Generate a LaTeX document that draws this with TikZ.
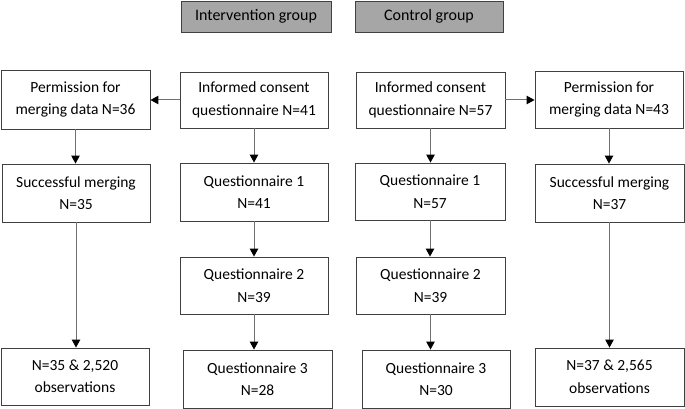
\documentclass[tikz,border=0pt]{standalone}
\usepackage{fontspec}
\setmainfont{Carlito}
\usetikzlibrary{arrows.meta}
\definecolor{boxline}{HTML}{404040}
\definecolor{conn}{HTML}{707070}
\definecolor{hdrfill}{HTML}{A6A6A6}
\tikzset{
  bx/.style={draw=boxline, line width=0.9pt, inner sep=0pt, align=center,
    font=\fontsize{15.5}{22.5}\selectfont},
  hdr/.style={bx, fill=hdrfill, font=\fontsize{16}{18}\selectfont},
  conn/.style={draw=conn, line width=1pt, -{Triangle[color=black, length=8pt, width=8.5pt]}}
}
\begin{document}
\begin{tikzpicture}[x=1pt, y=-1pt]
\useasboundingbox (0,0) rectangle (685,409);
% headers
\node[hdr, minimum width=150pt, minimum height=31pt] (hI) at (256,16.5) {Intervention group};
\node[hdr, minimum width=148pt, minimum height=31pt] (hC) at (429,16.5) {Control group};
% row 1
\node[bx, minimum width=149pt, minimum height=59pt] (pL) at (75.5,99.5) {Permission for\\merging data N=36};
\node[bx, minimum width=148pt, minimum height=56pt] (iL) at (254,100) {Informed consent\\questionnaire N=41};
\node[bx, minimum width=149pt, minimum height=56pt] (iR) at (430.5,100) {Informed consent\\questionnaire N=57};
\node[bx, minimum width=148pt, minimum height=57pt] (pR) at (609,99.5) {Permission for\\merging data N=43};
% row 2
\node[bx, minimum width=148pt, minimum height=58pt] (sL) at (76,193) {Successful merging\\N=35};
\node[bx, minimum width=148pt, minimum height=58pt] (q1L) at (254,192) {Questionnaire 1\\N=41};
\node[bx, minimum width=150pt, minimum height=57pt] (q1R) at (430,191.5) {Questionnaire 1\\N=57};
\node[bx, minimum width=149pt, minimum height=58pt] (sR) at (609.5,193) {Successful merging\\N=37};
% row 3
\node[bx, minimum width=148pt, minimum height=57pt] (q2L) at (254,285.5) {Questionnaire 2\\N=39};
\node[bx, minimum width=149pt, minimum height=57pt] (q2R) at (430.5,285.5) {Questionnaire 2\\N=39};
% row 4
\node[bx, minimum width=148pt, minimum height=57pt] (fL) at (75,376.5) {N=35 \& 2,520\\observations};
\node[bx, minimum width=149pt, minimum height=58pt] (q3L) at (257.5,379) {Questionnaire 3\\N=28};
\node[bx, minimum width=148pt, minimum height=58pt] (q3R) at (436,379) {Questionnaire 3\\N=30};
\node[bx, minimum width=149pt, minimum height=58pt] (fR) at (609.5,377) {N=37 \& 2,565\\observations};
% connectors
\draw[conn] (iL.west) -- (iL.west -| pL.east);
\draw[conn] (iR.east) -- (iR.east -| pR.west);
\draw[conn] (pL.south) -- (pL.south |- sL.north);
\draw[conn] (sL.south) -- (sL.south |- fL.north);
\draw[conn] (iL.south) -- (iL.south |- q1L.north);
\draw[conn] (q1L.south) -- (q1L.south |- q2L.north);
\draw[conn] (q2L.south) -- (q2L.south |- q3L.north);
\draw[conn] (iR.south) -- (iR.south |- q1R.north);
\draw[conn] (q1R.south) -- (q1R.south |- q2R.north);
\draw[conn] (q2R.south) -- (q2R.south |- q3R.north);
\draw[conn] (pR.south) -- (pR.south |- sR.north);
\draw[conn] (sR.south) -- (sR.south |- fR.north);
\end{tikzpicture}
\end{document}
